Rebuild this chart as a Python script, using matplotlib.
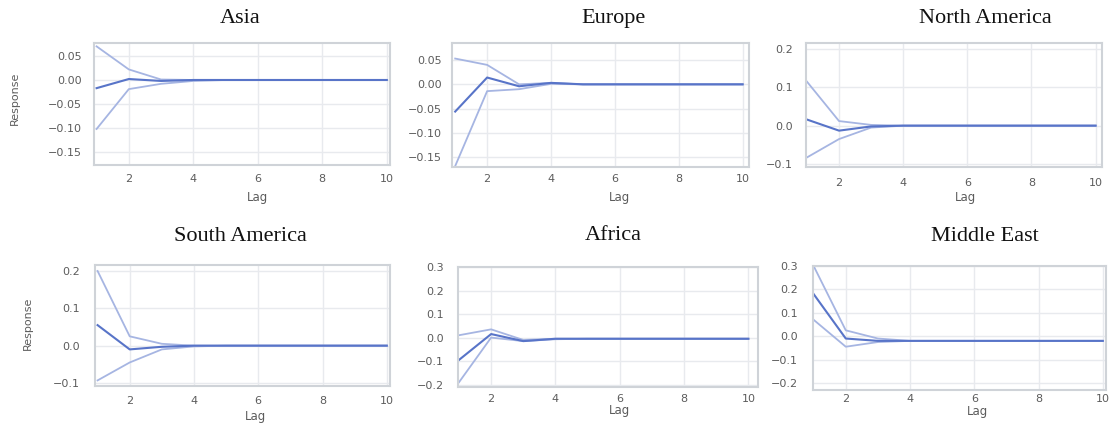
"""Impulse responses by region, six panels with confidence bands."""

import matplotlib.pyplot as plt

LAGS = list(range(1, 11))

REGIONS = ["Asia", "Europe", "North America", "South America", "Africa", "Middle East"]

ASIA_UP = [0.070, 0.022, 0.001, 0.000, 0.0, 0.0, 0.0, 0.0, 0.0, 0.0]
ASIA_IRF = [-0.017, 0.002, -0.002, 0.000, 0.0, 0.0, 0.0, 0.0, 0.0, 0.0]
ASIA_LO = [-0.102, -0.019, -0.008, -0.002, 0.0, 0.0, 0.0, 0.0, 0.0, 0.0]

EUROPE_UP = [0.053, 0.040, 0.000, 0.003, 0.0, 0.0, 0.0, 0.0, 0.0, 0.0]
EUROPE_IRF = [-0.056, 0.014, -0.004, 0.003, 0.0, 0.0, 0.0, 0.0, 0.0, 0.0]
EUROPE_LO = [-0.168, -0.014, -0.010, 0.001, 0.0, 0.0, 0.0, 0.0, 0.0, 0.0]

NAMERICA_UP = [0.115, 0.012, 0.002, 0.000, 0.0, 0.0, 0.0, 0.0, 0.0, 0.0]
NAMERICA_IRF = [0.016, -0.013, -0.002, 0.000, 0.0, 0.0, 0.0, 0.0, 0.0, 0.0]
NAMERICA_LO = [-0.083, -0.035, -0.005, 0.000, 0.0, 0.0, 0.0, 0.0, 0.0, 0.0]

SAMERICA_UP = [0.200, 0.025, 0.005, 0.000, 0.0, 0.0, 0.0, 0.0, 0.0, 0.0]
SAMERICA_IRF = [0.055, -0.010, -0.003, 0.000, 0.0, 0.0, 0.0, 0.0, 0.0, 0.0]
SAMERICA_LO = [-0.093, -0.045, -0.010, -0.002, 0.0, 0.0, 0.0, 0.0, 0.0, 0.0]

AFRICA_UP = [0.010, 0.035, -0.010, -0.005, -0.005, -0.005, -0.005, -0.005, -0.005, -0.005]
AFRICA_IRF = [-0.095, 0.015, -0.015, -0.005, -0.005, -0.005, -0.005, -0.005, -0.005, -0.005]
AFRICA_LO = [-0.190, 0.000, -0.015, -0.007, -0.005, -0.005, -0.005, -0.005, -0.005, -0.005]

MEAST_UP = [0.300, 0.025, -0.010, -0.020, -0.020, -0.020, -0.020, -0.020, -0.020, -0.020]
MEAST_IRF = [0.180, -0.010, -0.020, -0.020, -0.020, -0.020, -0.020, -0.020, -0.020, -0.020]
MEAST_LO = [0.070, -0.045, -0.025, -0.020, -0.020, -0.020, -0.020, -0.020, -0.020, -0.020]

SERIES = [
    (ASIA_UP, ASIA_IRF, ASIA_LO),
    (EUROPE_UP, EUROPE_IRF, EUROPE_LO),
    (NAMERICA_UP, NAMERICA_IRF, NAMERICA_LO),
    (SAMERICA_UP, SAMERICA_IRF, SAMERICA_LO),
    (AFRICA_UP, AFRICA_IRF, AFRICA_LO),
    (MEAST_UP, MEAST_IRF, MEAST_LO),
]

YTICKS = [
    [0.05, 0.00, -0.05, -0.10, -0.15],
    [0.05, 0.00, -0.05, -0.10, -0.15],
    [0.2, 0.1, 0.0, -0.1],
    [0.2, 0.1, 0.0, -0.1],
    [0.3, 0.2, 0.1, 0.0, -0.1, -0.2],
    [0.3, 0.2, 0.1, 0.0, -0.1, -0.2],
]
YFMT = ["{:.2f}", "{:.2f}", "{:.1f}", "{:.1f}", "{:.1f}", "{:.1f}"]
YLIMS = [(-0.177, 0.077), (-0.170, 0.085), (-0.108, 0.216),
         (-0.108, 0.216), (-0.21, 0.30), (-0.23, 0.30)]

# pixel layout of the pasted-together panels: left, top, right, bottom
W, H = 1109, 423
BOXES = [
    (94, 43, 390, 165),
    (452, 43, 749, 167),
    (806, 43, 1102, 167),
    (95, 265, 390, 386),
    (458, 267, 758, 387),
    (813, 266, 1106, 390),
]
XLIMS = [(0.92, 10.1), (0.9, 10.2), (0.97, 10.2), (0.92, 10.1), (0.97, 10.3), (0.98, 10.1)]
TITLE_POS = [(240, 23), (613, 23), (985, 23), (240, 241), (613, 240), (985, 241)]
LAG_POS = [(257, 197), (619, 197), (965, 197), (256, 416), (620, 410), (978, 411)]
XPAD = [6.5, 5, 8, 7.2, 5, 2.9]
YPAD = [8.6, 7.2, 9.4, 10.8, 10, 10.8]
RESPONSE_POS = [(15, 98), (28, 323)]

C_IRF = "#5874c8"
C_BAND = "#a6b5e2"
FRAME = "#cfd3d8"
TICK = "#5c5c5c"

fig = plt.figure(figsize=(W / 100, H / 100), dpi=100)

for i, name in enumerate(REGIONS):
    l, t, r, b = BOXES[i]
    ax = fig.add_axes([l / W, 1 - b / H, (r - l) / W, (b - t) / H])
    up, irf, lo = SERIES[i]
    ax.plot(LAGS, up, color=C_BAND, lw=1.3)
    ax.plot(LAGS, lo, color=C_BAND, lw=1.3)
    ax.plot(LAGS, irf, color=C_IRF, lw=1.5)
    ax.set_xlim(*XLIMS[i])
    ax.set_ylim(*YLIMS[i])
    ax.set_xticks([2, 4, 6, 8, 10])
    ax.set_yticks(YTICKS[i])
    ax.set_yticklabels([YFMT[i].format(v).replace("-", "\u2212") for v in YTICKS[i]])
    ax.tick_params(length=0, labelsize=8, colors=TICK)
    ax.tick_params(axis="x", pad=XPAD[i])
    ax.tick_params(axis="y", pad=YPAD[i])
    ax.grid(color="#e8eaee", lw=1.0)
    ax.set_axisbelow(True)
    for sp in ax.spines.values():
        sp.set_color(FRAME)
        sp.set_linewidth(1.5)

    lx, ly = LAG_POS[i]
    fig.text(lx / W, 1 - ly / H, "Lag", ha="center", va="center", fontsize=8.5, color=TICK)
    tx, ty = TITLE_POS[i]
    fig.text(tx / W, 1 - ty / H, name, ha="center", va="baseline",
             fontsize=16, family="Liberation Serif", color="#111111")

for rx, ry in RESPONSE_POS:
    fig.text(rx / W, 1 - ry / H, "Response", ha="center", va="center",
             rotation=90, fontsize=8, color=TICK)

fig.savefig("out.png", dpi=100)
